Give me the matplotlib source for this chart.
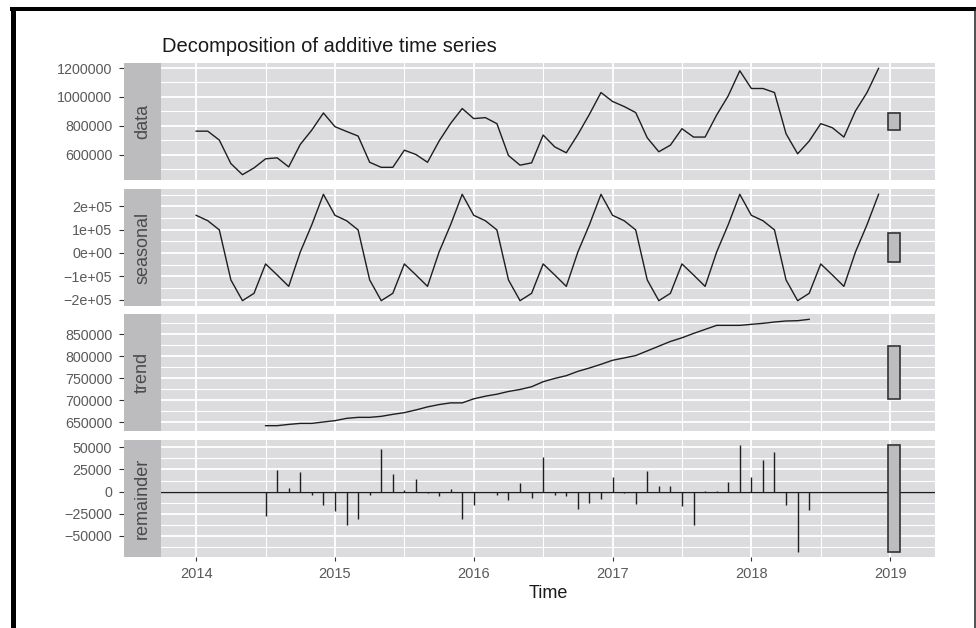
import numpy as np
import matplotlib
matplotlib.use("Agg")
import matplotlib.pyplot as plt
from matplotlib.lines import Line2D
from matplotlib.ticker import FixedLocator, FuncFormatter

plt.rcParams['font.family'] = ['Liberation Sans', 'DejaVu Sans']

# monthly series, Jan 2014 .. Dec 2018
t = 2014 + np.arange(60) / 12

data = [762000, 762000, 700000, 537000, 460000, 507000, 570000, 577000, 514000, 670000, 770000, 888000,
        793000, 760000, 728000, 546000, 511000, 511000, 630000, 600000, 546000, 693000, 816000, 919000,
        849000, 856000, 814000, 593000, 526000, 542000, 735000, 653000, 612000, 739000, 879000, 1030000,
        968000, 933000, 891000, 716000, 619000, 665000, 779000, 721000, 721000, 874000, 1007000, 1181000,
        1058000, 1058000, 1030000, 744000, 605000, 693000, 814000, 786000, 721000, 902000, 1030000, 1198000]

# one year of the seasonal component, Jan..Dec
season_profile = [161000, 138000, 98600, -115700, -204500, -173000,
                  -47100, -94300, -143200, 4000, 121000, 251000]
seasonal = np.tile(season_profile, 5)

# trend and remainder run Jul 2014 .. Jun 2018
t_mid = t[6:54]
trend = [642300, 642300, 645200, 647500, 647500, 650700,
         653700, 658900, 661200, 661200, 663500, 668000, 671900, 678000, 684900, 690200, 694000, 694000,
         703200, 709200, 713700, 719900, 724400, 730600, 742000, 749500, 755700, 765500, 773100, 781500,
         790600, 795900, 801300, 811900, 822600, 833300, 841600, 851500, 860600, 869800, 869800, 869800,
         872100, 874400, 877400, 879700, 880400, 883500]
remainder = [-28100, 24300, 4500, 21700, -3700, -15000,
             -22500, -37500, -30700, -3700, 48700, 19500, 1900, 13900, -1500, -5200, 3000, -30700,
             -15000, -500, -3700, -9400, 9700, -7500, 39300, -3700, -5600, -19800, -13100, -8200,
             16900, -1900, -13900, 23600, 6700, 6700, -16500, -38200, 1100, 1100, 10500, 52400,
             16900, 36000, 45300, -15700, -68200, -20600]

panel_names = ["data", "seasonal", "trend", "remainder"]
year_ticks = [2014, 2015, 2016, 2017, 2018, 2019]

W, H = 976, 628
fig = plt.figure(figsize=(W / 100, H / 100), dpi=100)

panel_left, panel_right = 161, 935
strip_left = 124
panel_tops = [63, 189, 314, 440]
panel_h = 117

line_col = "#1e1e1e"
panel_bg = "#dcdcde"
strip_bg = "#bcbcbf"
tick_col = "#5a5a5a"

def fig_box(x0, x1, top, h):
    return [x0 / W, 1 - (top + h) / H, (x1 - x0) / W, h / H]

def fmt_plain(v, pos):
    s = "%d" % round(v)
    return s.replace("-", "\u2212")

def fmt_sci(v, pos):
    s = "%.0e" % v
    return s.replace("-", "\u2212", 1) if v < 0 else s

# range bars: same length in every panel (the remainder's range)
bar_len = np.ptp(remainder)
bar_x0 = t[-1] + 0.07
bar_x1 = t[-1] + 0.153
x_lo, x_hi = t[0], bar_x1
x_pad = 0.05 * (x_hi - x_lo)

series = [(t, data), (t, seasonal), (t_mid, trend), (t_mid, remainder)]
majors = [
    [600000, 800000, 1000000, 1200000],
    [-200000, -100000, 0, 100000, 200000],
    [650000, 700000, 750000, 800000, 850000],
    [-50000, -25000, 0, 25000, 50000],
]
minors = [
    [500000, 700000, 900000, 1100000],
    [-150000, -50000, 50000, 150000, 250000],
    [625000, 675000, 725000, 775000, 825000, 875000],
    [-62500, -37500, -12500, 12500, 37500, 62500],
]
formatters = [fmt_plain, fmt_sci, fmt_plain, fmt_plain]

for i, (xs, ys) in enumerate(series):
    ax = fig.add_axes(fig_box(panel_left, panel_right, panel_tops[i], panel_h))
    ax.set_facecolor(panel_bg)
    ys = np.asarray(ys, dtype=float)

    if panel_names[i] == "remainder":
        ax.axhline(0, color=line_col, lw=1.0, zorder=2)
        ax.vlines(xs, 0, ys, color=line_col, lw=1.0, zorder=2)
    else:
        ax.plot(xs, ys, color=line_col, lw=1.0, zorder=2)

    mid = (ys.min() + ys.max()) / 2
    ax.bar(bar_x0, bar_len, width=bar_x1 - bar_x0, bottom=mid - bar_len / 2,
           align="edge", color="#bdbdc0", edgecolor="#333333", lw=1.2, zorder=3)

    y_lo = min(ys.min(), mid - bar_len / 2)
    y_hi = max(ys.max(), mid + bar_len / 2)
    y_pad = 0.05 * (y_hi - y_lo)
    ax.set_ylim(y_lo - y_pad, y_hi + y_pad)
    ax.set_xlim(x_lo - x_pad, x_hi + x_pad)

    ax.yaxis.set_major_locator(FixedLocator(majors[i]))
    ax.yaxis.set_minor_locator(FixedLocator(minors[i]))
    ax.yaxis.set_major_formatter(FuncFormatter(formatters[i]))
    ax.xaxis.set_major_locator(FixedLocator(year_ticks))
    ax.xaxis.set_minor_locator(FixedLocator([y + 0.5 for y in range(2013, 2020)]))

    ax.grid(which="major", color="white", lw=1.3, zorder=0)
    ax.grid(which="minor", color="white", lw=0.8, zorder=0)
    ax.set_axisbelow(True)

    for sp in ax.spines.values():
        sp.set_visible(False)
    # y ticks sit on the outer edge of the strip
    ax.spines["left"].set_position(("outward", (panel_left - strip_left) * 0.72))

    ax.tick_params(which="minor", length=0)
    ax.tick_params(axis="y", which="major", length=3.5, width=0.8, color="#333333",
                   labelsize=10.3, labelcolor=tick_col, pad=5)
    if i < 3:
        ax.tick_params(axis="x", which="major", length=0, labelbottom=False)
    else:
        ax.tick_params(axis="x", which="major", length=3.2, width=0.8, color="#333333",
                       labelsize=10.5, labelcolor=tick_col, pad=4)

    # facet strip on the left
    sax = fig.add_axes(fig_box(strip_left, panel_left, panel_tops[i], panel_h))
    sax.set_facecolor(strip_bg)
    sax.set_xticks([])
    sax.set_yticks([])
    for sp in sax.spines.values():
        sp.set_visible(False)
    sax.text(0.5, 0.5, panel_names[i], rotation=90, ha="center", va="center",
             fontsize=13, color="#4a4a4a", transform=sax.transAxes)

fig.text(162 / W, 1 - 52 / H, "Decomposition of additive time series",
         fontsize=14.5, color="#1a1a1a", ha="left", va="baseline")
fig.text((panel_left + panel_right) / 2 / W, 1 - 593 / H, "Time",
         fontsize=13, color="#1a1a1a", ha="center", va="center")

# frame around the figure
fig.add_artist(Line2D([12.5 / W, 12.5 / W], [0, 1 - 8.5 / H], transform=fig.transFigure,
                      color="black", lw=3.6, solid_capstyle="butt"))
fig.add_artist(Line2D([10 / W, 1], [1 - 8.5 / H, 1 - 8.5 / H], transform=fig.transFigure,
                      color="black", lw=2.9, solid_capstyle="butt"))
fig.add_artist(Line2D([974.5 / W, 974.5 / W], [0, 1 - 8.5 / H], transform=fig.transFigure,
                      color="#222222", lw=1.1, solid_capstyle="butt"))

fig.savefig("out.png", dpi=100, facecolor="white")
